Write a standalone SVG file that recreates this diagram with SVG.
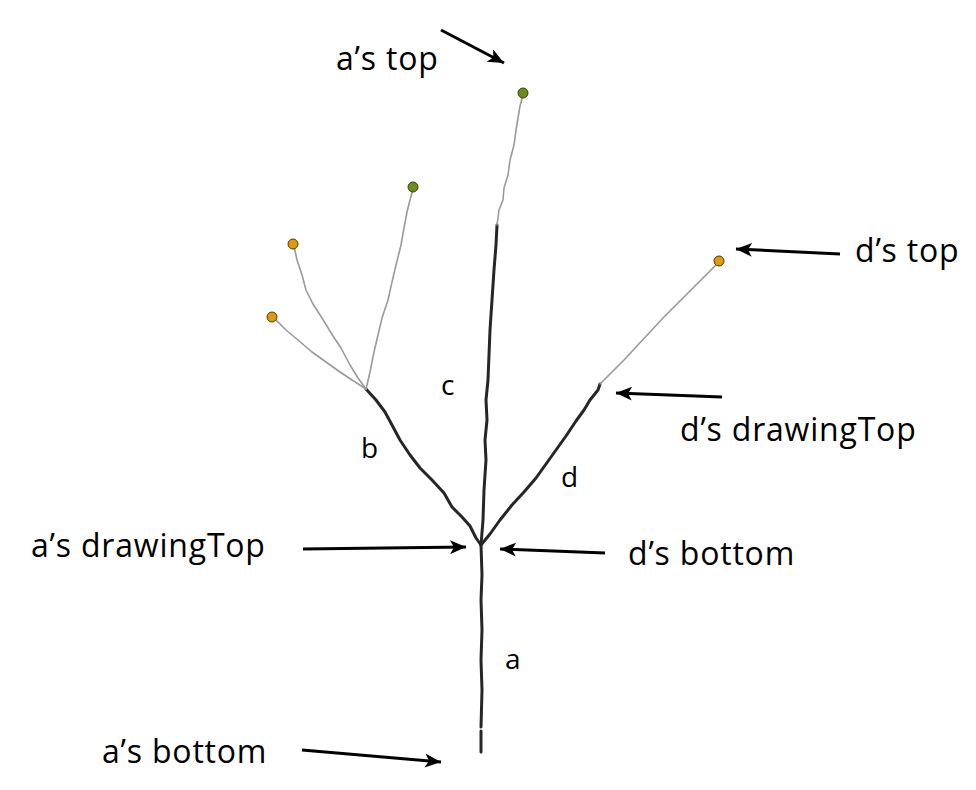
<svg xmlns="http://www.w3.org/2000/svg" width="976" height="790" viewBox="0 0 976 790">
<style>
.lbl{font-family:"Open Sans","Noto Sans",sans-serif;font-size:32px;letter-spacing:0.8px;fill:#000}
.seg{font-family:"Open Sans","Noto Sans",sans-serif;font-size:28px;fill:#000}
.thick{fill:none;stroke:#262626;stroke-width:3;stroke-linejoin:round;stroke-linecap:round}
.thin{fill:none;stroke:#9a9a9a;stroke-width:1.6;stroke-linejoin:round;stroke-linecap:round}
.ptr{fill:none;stroke:#000;stroke-width:3}
.dot-g{fill:#6b8f12;stroke:#3a3a20;stroke-width:1}
.dot-o{fill:#e09a06;stroke:#4a3a10;stroke-width:1}
</style>
<defs>
<marker id="ah" markerUnits="userSpaceOnUse" markerWidth="18" markerHeight="14" refX="16" refY="7" orient="auto">
<path d="M0,0 L16,7 L0,14 L4,7 Z" fill="#000"/>
</marker>
</defs>
<rect width="976" height="790" fill="#fff"/>
<g id="tree">
<g id="branch-a">
<path class="thick" d="M481,545 L482,575 L481,600 L482,630 L481,660 L482,690 L481,727"/>
<path class="thick" d="M481,731 L481,752"/>
</g>
<g id="branch-c">
<path class="thick" d="M481,545 L483,520 L484,490 L486,460 L485,440 L487,420 L486,400 L488,380 L489,355 L490,330 L492,300 L494,270 L496,245 L497,225"/>
<path class="thin" d="M497,225 L499,210 L503,200 L504,188 L508,175 L510,160 L514,145 L516,130 L518,118 L520,106 L523,95"/>
</g>
<g id="branch-b">
<path class="thick" d="M481,545 L476,538 L470,526 L462,517 L452,507 L444,493 L432,480 L420,468 L410,455 L400,440 L392,425 L385,412 L376,400 L366,389"/>
<path class="thin" d="M366,389 L352,380 L340,372 L326,362 L312,352 L298,340 L286,330 L275,319"/>
<path class="thin" d="M366,389 L358,378 L350,365 L341,348 L333,336 L322,318 L313,304 L306,290 L302,275 L297,260 L294,246"/>
<path class="thin" d="M366,389 L370,372 L374,352 L378,335 L382,318 L388,300 L392,282 L396,265 L401,245 L404,228 L407,212 L410,200 L413,189"/>
</g>
<g id="branch-d">
<path class="thick" d="M481,545 L490,534 L500,520 L512,505 L524,492 L536,478 L546,464 L556,450 L566,436 L576,421 L584,410 L590,400 L598,390 L600,384"/>
<path class="thin" d="M600,384 L612,372 L624,360 L636,347 L650,332 L663,318 L676,305 L688,293 L700,281 L710,271 L719,262"/>
</g>
<circle id="tip-a" class="dot-g" cx="523" cy="93" r="5"/>
<circle id="tip-b3" class="dot-g" cx="413" cy="187" r="5"/>
<circle id="tip-b2" class="dot-o" cx="293" cy="244" r="5"/>
<circle id="tip-b1" class="dot-o" cx="272" cy="317" r="5"/>
<circle id="tip-d" class="dot-o" cx="719" cy="261" r="5"/>
</g>
<g id="segment-labels">
<text class="seg" x="441" y="395">c</text>
<text class="seg" x="361" y="458">b</text>
<text class="seg" x="561" y="487">d</text>
<text class="seg" x="505" y="669">a</text>
</g>
<g id="callout-labels">
<text class="lbl" x="336" y="70">a’s top</text>
<text class="lbl" x="855" y="262">d’s top</text>
<text class="lbl" x="680" y="441">d’s drawingTop</text>
<text class="lbl" x="31" y="557">a’s drawingTop</text>
<text class="lbl" x="628" y="565">d’s bottom</text>
<text class="lbl" x="102" y="763">a’s bottom</text>
</g>
<g id="connectors">
<line class="ptr" x1="441" y1="30" x2="504" y2="63" marker-end="url(#ah)"/>
<line class="ptr" x1="840" y1="254" x2="736" y2="249" marker-end="url(#ah)"/>
<line class="ptr" x1="722" y1="397" x2="616" y2="393" marker-end="url(#ah)"/>
<line class="ptr" x1="303" y1="549" x2="466" y2="547" marker-end="url(#ah)"/>
<line class="ptr" x1="605" y1="553" x2="500" y2="549" marker-end="url(#ah)"/>
<line class="ptr" x1="302" y1="750" x2="441" y2="762" marker-end="url(#ah)"/>
</g>
</svg>
